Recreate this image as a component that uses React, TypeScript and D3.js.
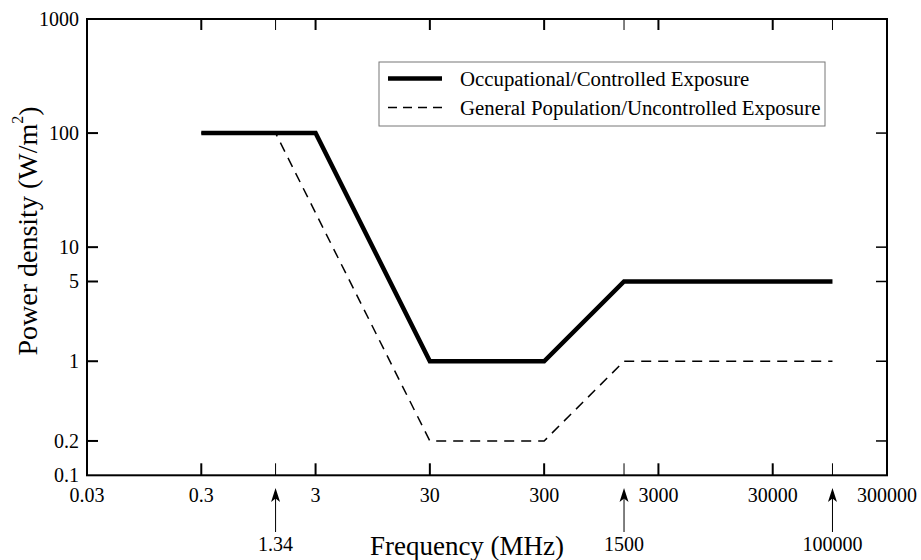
import React from "react";
import * as d3 from "d3";

const xTickValues = [0.3, 3, 30, 300, 3000, 30000];
const xTickLabels = ["0.03", "0.3", "3", "30", "300", "3000", "30000", "300000"];
const xLabelValues = [0.03, 0.3, 3, 30, 300, 3000, 30000, 300000];
const yTickValues = [0.2, 1, 5, 10, 100];
const yLabelValues = [0.1, 0.2, 1, 5, 10, 100, 1000];
const yTickLabels = ["0.1", "0.2", "1", "5", "10", "100", "1000"];
const markerValues = [1.34, 1500, 100000];
const markerLabels = ["1.34", "1500", "100000"];

const occFreq = [0.3, 3, 30, 300, 1500, 100000];
const occValues = [100, 100, 1, 1, 5, 5];
const genFreq = [0.3, 1.34, 30, 300, 1500, 100000];
const genValues = [100, 100, 0.2, 0.2, 1, 1];

const W = 921;
const H = 560;
const left = 87;
const right = 887;
const top = 19;
const bottom = 475.3;
const FONT = "'Liberation Serif', 'Times New Roman', serif";

export default function App() {
  const x = d3.scaleLog().domain([0.03, 300000]).range([left, right]);
  const y = d3.scaleLog().domain([0.1, 1000]).range([bottom, top]);

  const line = d3
    .line<[number, number]>()
    .x((d) => x(d[0]))
    .y((d) => y(d[1]));

  const occPts = occFreq.map((f, i) => [f, occValues[i]] as [number, number]);
  const genPts = genFreq.map((f, i) => [f, genValues[i]] as [number, number]);

  const tickLen = 11;

  return (
    <svg
      width={W}
      height={H}
      style={{ position: "absolute", left: 0, top: 0, background: "#fff" }}
      fontFamily={FONT}
    >
      <rect x={0} y={0} width={W} height={H} fill="#fff" />
      {/* data */}
      <path
        d={line(genPts) || ""}
        fill="none"
        stroke="#000"
        strokeWidth={1.5}
        strokeDasharray="10,7"
      />
      <path
        d={line(occPts) || ""}
        fill="none"
        stroke="#000"
        strokeWidth={4.5}
        strokeLinejoin="miter"
      />

      {/* frame */}
      <rect
        x={left}
        y={top}
        width={right - left}
        height={bottom - top}
        fill="none"
        stroke="#000"
        strokeWidth={2}
      />

      {/* x ticks bottom & top */}
      {xTickValues.map((v) => (
        <g key={"xt" + v}>
          <line x1={x(v)} x2={x(v)} y1={bottom} y2={bottom - tickLen - 1} stroke="#000" strokeWidth={2} />
          <line x1={x(v)} x2={x(v)} y1={top} y2={top + tickLen} stroke="#000" strokeWidth={2} />
        </g>
      ))}
      {xLabelValues.map((v, i) => (
        <text key={"xl" + v} x={x(v)} y={502} fontSize={20} textAnchor="middle" fill="#000">
          {xTickLabels[i]}
        </text>
      ))}

      {/* y ticks left & right */}
      {yTickValues.map((v) => (
        <g key={"yt" + v}>
          <line x1={left} x2={left + tickLen} y1={y(v)} y2={y(v)} stroke="#000" strokeWidth={2} />
          <line x1={right} x2={right - tickLen} y1={y(v)} y2={y(v)} stroke="#000" strokeWidth={1.5} />
        </g>
      ))}
      {yLabelValues.map((v, i) => (
        <text key={"yl" + v} x={79} y={y(v)} dy="0.33em" fontSize={20} textAnchor="end" fill="#000">
          {yTickLabels[i]}
        </text>
      ))}

      {/* marker arrows */}
      {markerValues.map((v, i) => {
        const mx = x(v);
        return (
          <g key={"m" + v}>
            <line x1={mx} x2={mx} y1={bottom} y2={bottom - tickLen - 1} stroke="#000" strokeWidth={1} />
            <line x1={mx} x2={mx} y1={top} y2={top + tickLen} stroke="#000" strokeWidth={1} />
            <line x1={mx} x2={mx} y1={496} y2={532} stroke="#000" strokeWidth={1} />
            <path
              d={`M${mx},488 L${mx + 4.5},502 L${mx},498.5 L${mx - 4.5},502 Z`}
              fill="#000"
            />
            <text x={mx} y={551} fontSize={20} textAnchor="middle" fill="#000">
              {markerLabels[i]}
            </text>
          </g>
        );
      })}

      {/* axis titles */}
      <text x={467} y={555} fontSize={27} textAnchor="middle" fill="#000">
        Frequency (MHz)
      </text>
      <text
        transform="translate(37,231) rotate(-90)"
        fontSize={28}
        textAnchor="middle"
        fill="#000"
      >
        Power density (W/m
        <tspan fontSize={16} dy="-0.9em">2</tspan>
        <tspan dy="0.55em">)</tspan>
      </text>

      {/* legend */}
      <rect x={379} y={62} width={446} height={64} fill="#fff" stroke="#777" strokeWidth={1} />
      <line x1={388} x2={442} y1={78.5} y2={78.5} stroke="#000" strokeWidth={4.5} />
      <line x1={388} x2={442} y1={107.5} y2={107.5} stroke="#000" strokeWidth={1.5} strokeDasharray="9,6" />
      <text x={460} y={85.5} fontSize={20.8} fill="#000">
        Occupational/Controlled Exposure
      </text>
      <text x={460} y={114.5} fontSize={20.8} fill="#000">
        General Population/Uncontrolled Exposure
      </text>
    </svg>
  );
}
